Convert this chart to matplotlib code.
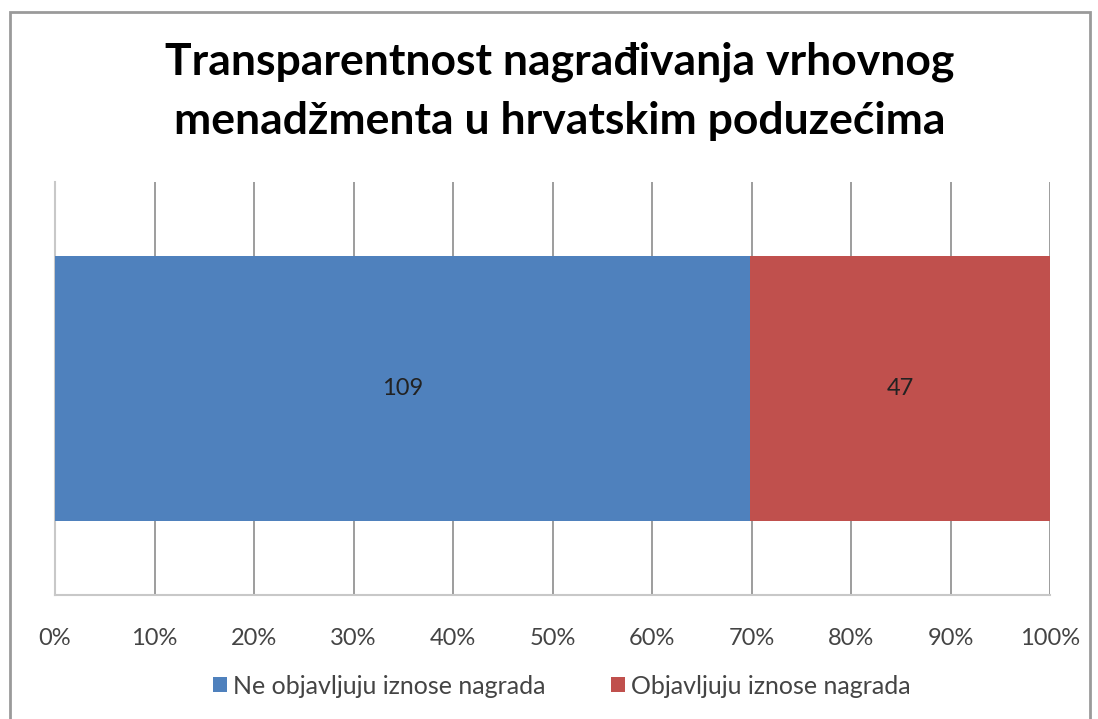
import matplotlib.pyplot as plt
from matplotlib.patches import Rectangle
from matplotlib.ticker import PercentFormatter

plt.rcParams['font.family'] = ['Lato', 'DejaVu Sans']

title = 'Transparentnost nagrađivanja vrhovnog\nmenadžmenta u hrvatskim poduzećima'
series = ['Ne objavljuju iznose nagrada', 'Objavljuju iznose nagrada']
counts = [109, 47]
colors = ['#4F81BD', '#C0504D']

total = sum(counts)
shares = [c / total * 100 for c in counts]

fig = plt.figure(figsize=(10.98, 7.19), dpi=100)
ax = fig.add_axes([55 / 1098, 1 - 595 / 719, 995 / 1098, 413 / 719])

left = 0
for name, val, share, col in zip(series, counts, shares, colors):
    ax.barh([0], [share], left=left, height=0.64, color=col, label=name, zorder=3)
    ax.text(left + share / 2, 0, str(val), ha='center', va='center',
            fontsize=17, color='#222222', zorder=4)
    left += share

ax.set_xlim(0, 100)
ax.set_ylim(-0.5, 0.5)
ax.set_xticks(range(0, 101, 10))
ax.xaxis.set_major_formatter(PercentFormatter(decimals=0))
ax.set_yticks([])
ax.tick_params(axis='x', length=0, pad=24, labelsize=17, labelcolor='#444444')
ax.grid(axis='x', color='#8c8c8c', linewidth=1.2, zorder=0)
for side in ['top', 'right']:
    ax.spines[side].set_visible(False)
for side in ['left', 'bottom']:
    ax.spines[side].set_color('#c8c8c8')
    ax.spines[side].set_linewidth(1.5)

fig.suptitle(title, x=560 / 1098, y=1 - 42 / 719, fontsize=32, fontweight='bold',
             va='top', linespacing=1.55)

fig.legend(loc='center', bbox_to_anchor=(562 / 1098, 1 - 686 / 719), ncol=2,
           frameon=False, fontsize=18, handlelength=0.55, handleheight=0.55,
           handletextpad=0.25, columnspacing=2.6, labelcolor='#444444')

fig.patches.append(Rectangle((10 / 1098, -0.01), 1080 / 1098, 1 - 12 / 719 + 0.01,
                             transform=fig.transFigure, fill=False,
                             edgecolor='#9a9a9a', linewidth=2))

fig.savefig('out.png', dpi=100)
